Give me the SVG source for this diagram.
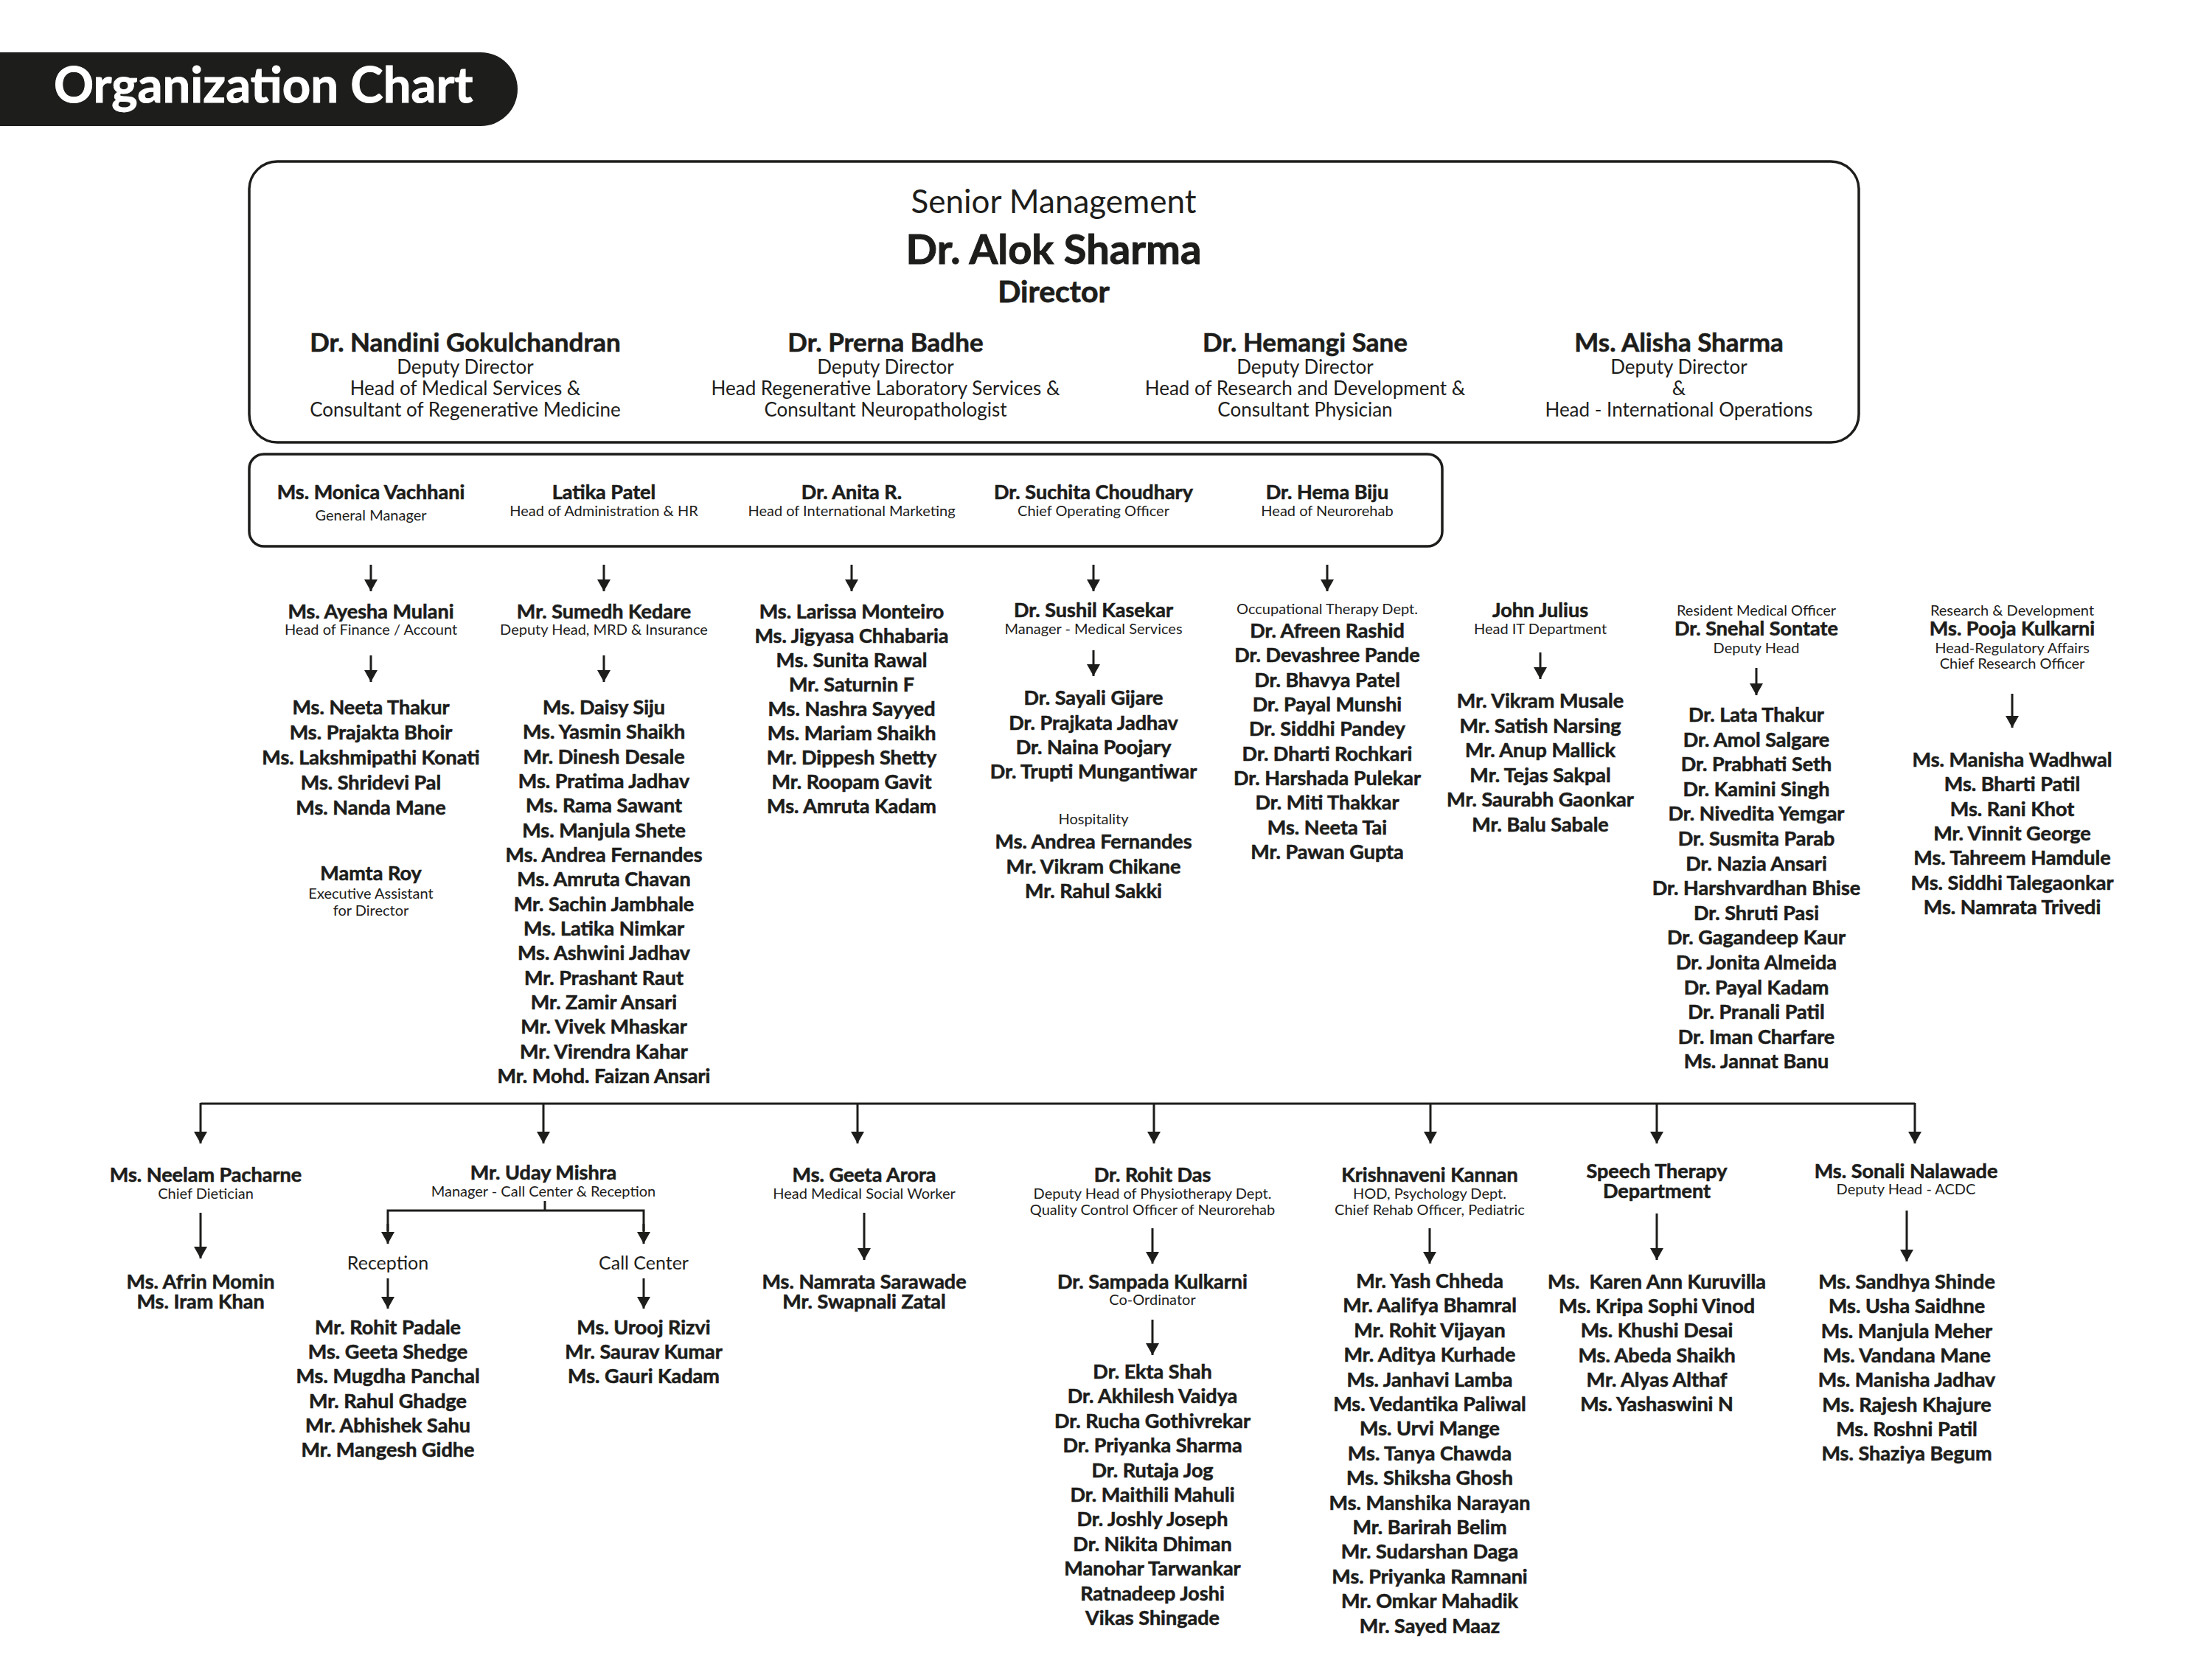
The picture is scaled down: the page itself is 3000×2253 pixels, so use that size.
<svg xmlns="http://www.w3.org/2000/svg" width="3000" height="2253" viewBox="0 0 3000 2253">
<style>
text{font-family:Lato,"Open Sans","Liberation Sans",sans-serif;fill:#1d1d1b;text-anchor:middle}
.n{font-size:27px;font-weight:700;stroke:#1d1d1b;stroke-width:0.6}
.s{font-size:20px}
.h{font-size:25px}
.t{font-size:26px}
.tn{font-size:35px;font-weight:700;stroke:#1d1d1b;stroke-width:0.6}
.box{fill:none;stroke:#1d1d1b;stroke-width:3.5}
.c{fill:none;stroke:#1d1d1b;stroke-width:3}
.a{fill:none;stroke:#1d1d1b;stroke-width:3;marker-end:url(#ah)}
</style>
<defs>
<marker id="ah" viewBox="0 0 16 18" refX="16" refY="9" markerWidth="16" markerHeight="18" markerUnits="userSpaceOnUse" orient="auto">
<path d="M0,0 L16,9 L0,18 z" fill="#1d1d1b"/>
</marker>
</defs>
<rect width="3000" height="2253" fill="#ffffff"/>

<g id="title">
<rect x="-60" y="71" width="762" height="100" rx="50" fill="#1d1d1b"/>
<text x="73" y="139" style="font-size:67px;font-weight:700;fill:#ffffff;stroke:#ffffff;stroke-width:1;text-anchor:start">Organization Chart</text>
</g>

<g id="senior-management">
<rect class="box" x="338" y="219" width="2183" height="381" rx="38"/>
<text x="1429" y="289" style="font-size:44px">Senior Management</text>
<text x="1429" y="358" style="font-size:56px;font-weight:700;stroke:#1d1d1b;stroke-width:1">Dr. Alok Sharma</text>
<text x="1429" y="410" style="font-size:41px;font-weight:700;stroke:#1d1d1b;stroke-width:0.8">Director</text>
<g id="nandini">
<text class="tn" x="631" y="477">Dr. Nandini Gokulchandran</text>
<text class="t" x="631" y="507">Deputy Director</text>
<text class="t" x="631" y="536">Head of Medical Services &amp;</text>
<text class="t" x="631" y="565">Consultant of Regenerative Medicine</text>
</g>
<g id="prerna">
<text class="tn" x="1201" y="477">Dr. Prerna Badhe</text>
<text class="t" x="1201" y="507">Deputy Director</text>
<text class="t" x="1201" y="536">Head Regenerative Laboratory Services &amp;</text>
<text class="t" x="1201" y="565">Consultant Neuropathologist</text>
</g>
<g id="hemangi">
<text class="tn" x="1770" y="477">Dr. Hemangi Sane</text>
<text class="t" x="1770" y="507">Deputy Director</text>
<text class="t" x="1770" y="536">Head of Research and Development &amp;</text>
<text class="t" x="1770" y="565">Consultant Physician</text>
</g>
<g id="alisha">
<text class="tn" x="2277" y="477">Ms. Alisha Sharma</text>
<text class="t" x="2277" y="507">Deputy Director</text>
<text class="t" x="2277" y="536">&amp;</text>
<text class="t" x="2277" y="565">Head - International Operations</text>
</g>
</g>

<g id="heads-box">
<rect class="box" x="338" y="616" width="1618" height="125" rx="20"/>
<g id="monica"><text class="n" x="503" y="677">Ms. Monica Vachhani</text><text class="s" x="503" y="706">General Manager</text></g>
<g id="latika"><text class="n" x="819" y="677">Latika Patel</text><text class="s" x="819" y="700">Head of Administration &amp; HR</text></g>
<g id="anita"><text class="n" x="1155" y="677">Dr. Anita R.</text><text class="s" x="1155" y="700">Head of International Marketing</text></g>
<g id="suchita"><text class="n" x="1483" y="677">Dr. Suchita Choudhary</text><text class="s" x="1483" y="700">Chief Operating Officer</text></g>
<g id="hema"><text class="n" x="1800" y="677">Dr. Hema Biju</text><text class="s" x="1800" y="700">Head of Neurorehab</text></g>
</g>

<g id="connectors">
<line class="a" x1="503" y1="766" x2="503" y2="802"/>
<line class="a" x1="819" y1="766" x2="819" y2="802"/>
<line class="a" x1="1155" y1="766" x2="1155" y2="802"/>
<line class="a" x1="1483" y1="766" x2="1483" y2="802"/>
<line class="a" x1="1800" y1="766" x2="1800" y2="802"/>
<line class="a" x1="503" y1="889" x2="503" y2="925"/>
<line class="a" x1="819" y1="889" x2="819" y2="925"/>
<line class="a" x1="1483" y1="882" x2="1483" y2="917"/>
<line class="a" x1="2089" y1="885" x2="2089" y2="921"/>
<line class="a" x1="2382" y1="906" x2="2382" y2="943"/>
<line class="a" x1="2729" y1="941" x2="2729" y2="987"/>
<polyline class="c" points="272,1497 2597,1497"/>
<line class="a" x1="272" y1="1496" x2="272" y2="1551"/>
<line class="a" x1="737" y1="1496" x2="737" y2="1551"/>
<line class="a" x1="1163" y1="1496" x2="1163" y2="1551"/>
<line class="a" x1="1565" y1="1496" x2="1565" y2="1551"/>
<line class="a" x1="1940" y1="1496" x2="1940" y2="1551"/>
<line class="a" x1="2247" y1="1496" x2="2247" y2="1551"/>
<line class="a" x1="2597" y1="1496" x2="2597" y2="1551"/>
<line class="a" x1="272" y1="1645" x2="272" y2="1707"/>
<line class="c" x1="739" y1="1629" x2="739" y2="1642"/>
<polyline class="c" points="526,1670 526,1642 873,1642 873,1670"/>
<line class="a" x1="526" y1="1660" x2="526" y2="1687"/>
<line class="a" x1="873" y1="1660" x2="873" y2="1687"/>
<line class="a" x1="526" y1="1734" x2="526" y2="1775"/>
<line class="a" x1="873" y1="1734" x2="873" y2="1775"/>
<line class="a" x1="1172" y1="1645" x2="1172" y2="1709"/>
<line class="a" x1="1563" y1="1666" x2="1563" y2="1714"/>
<line class="a" x1="1563" y1="1790" x2="1563" y2="1838"/>
<line class="a" x1="1939" y1="1666" x2="1939" y2="1714"/>
<line class="a" x1="2247" y1="1646" x2="2247" y2="1709"/>
<line class="a" x1="2586" y1="1642" x2="2586" y2="1711"/>
</g>

<g id="ayesha-mulani">
<text class="n" x="503" y="839">Ms. Ayesha Mulani</text>
<text class="s" x="503" y="861">Head of Finance / Account</text>
</g>
<g id="finance-team">
<text class="n" x="503" y="969">Ms. Neeta Thakur</text>
<text class="n" x="503" y="1003">Ms. Prajakta Bhoir</text>
<text class="n" x="503" y="1037">Ms. Lakshmipathi Konati</text>
<text class="n" x="503" y="1071">Ms. Shridevi Pal</text>
<text class="n" x="503" y="1105">Ms. Nanda Mane</text>
</g>
<g id="mamta-roy">
<text class="n" x="503" y="1194">Mamta Roy</text>
<text class="s" x="503" y="1219">Executive Assistant</text>
<text class="s" x="503" y="1242">for Director</text>
</g>

<g id="sumedh-kedare">
<text class="n" x="819" y="839">Mr. Sumedh Kedare</text>
<text class="s" x="819" y="861">Deputy Head, MRD &amp; Insurance</text>
</g>
<g id="admin-team">
<text class="n" x="819" y="969">Ms. Daisy Siju</text>
<text class="n" x="819" y="1002">Ms. Yasmin Shaikh</text>
<text class="n" x="819" y="1036">Mr. Dinesh Desale</text>
<text class="n" x="819" y="1069">Ms. Pratima Jadhav</text>
<text class="n" x="819" y="1102">Ms. Rama Sawant</text>
<text class="n" x="819" y="1136">Ms. Manjula Shete</text>
<text class="n" x="819" y="1169">Ms. Andrea Fernandes</text>
<text class="n" x="819" y="1202">Ms. Amruta Chavan</text>
<text class="n" x="819" y="1236">Mr. Sachin Jambhale</text>
<text class="n" x="819" y="1269">Ms. Latika Nimkar</text>
<text class="n" x="819" y="1302">Ms. Ashwini Jadhav</text>
<text class="n" x="819" y="1336">Mr. Prashant Raut</text>
<text class="n" x="819" y="1369">Mr. Zamir Ansari</text>
<text class="n" x="819" y="1402">Mr. Vivek Mhaskar</text>
<text class="n" x="819" y="1436">Mr. Virendra Kahar</text>
<text class="n" x="819" y="1469">Mr. Mohd. Faizan Ansari</text>
</g>

<g id="marketing-team">
<text class="n" x="1155" y="839">Ms. Larissa Monteiro</text>
<text class="n" x="1155" y="872">Ms. Jigyasa Chhabaria</text>
<text class="n" x="1155" y="905">Ms. Sunita Rawal</text>
<text class="n" x="1155" y="938">Mr. Saturnin F</text>
<text class="n" x="1155" y="971">Ms. Nashra Sayyed</text>
<text class="n" x="1155" y="1004">Ms. Mariam Shaikh</text>
<text class="n" x="1155" y="1037">Mr. Dippesh Shetty</text>
<text class="n" x="1155" y="1070">Mr. Roopam Gavit</text>
<text class="n" x="1155" y="1103">Ms. Amruta Kadam</text>
</g>

<g id="sushil-kasekar">
<text class="n" x="1483" y="837">Dr. Sushil Kasekar</text>
<text class="s" x="1483" y="860">Manager - Medical Services</text>
</g>
<g id="medical-team">
<text class="n" x="1483" y="956">Dr. Sayali Gijare</text>
<text class="n" x="1483" y="990">Dr. Prajkata Jadhav</text>
<text class="n" x="1483" y="1023">Dr. Naina Poojary</text>
<text class="n" x="1483" y="1056">Dr. Trupti Mungantiwar</text>
</g>
<g id="hospitality">
<text class="s" x="1483" y="1118">Hospitality</text>
<text class="n" x="1483" y="1151">Ms. Andrea Fernandes</text>
<text class="n" x="1483" y="1185">Mr. Vikram Chikane</text>
<text class="n" x="1483" y="1218">Mr. Rahul Sakki</text>
</g>

<g id="occupational-therapy">
<text class="s" x="1800" y="833">Occupational Therapy Dept.</text>
<text class="n" x="1800" y="865">Dr. Afreen Rashid</text>
<text class="n" x="1800" y="898">Dr. Devashree Pande</text>
<text class="n" x="1800" y="932">Dr. Bhavya Patel</text>
<text class="n" x="1800" y="965">Dr. Payal Munshi</text>
<text class="n" x="1800" y="998">Dr. Siddhi Pandey</text>
<text class="n" x="1800" y="1032">Dr. Dharti Rochkari</text>
<text class="n" x="1800" y="1065">Dr. Harshada Pulekar</text>
<text class="n" x="1800" y="1098">Dr. Miti Thakkar</text>
<text class="n" x="1800" y="1132">Ms. Neeta Tai</text>
<text class="n" x="1800" y="1165">Mr. Pawan Gupta</text>
</g>

<g id="john-julius">
<text class="n" x="2089" y="837">John Julius</text>
<text class="s" x="2089" y="860">Head IT Department</text>
</g>
<g id="it-team">
<text class="n" x="2089" y="960">Mr. Vikram Musale</text>
<text class="n" x="2089" y="994">Mr. Satish Narsing</text>
<text class="n" x="2089" y="1027">Mr. Anup Mallick</text>
<text class="n" x="2089" y="1061">Mr. Tejas Sakpal</text>
<text class="n" x="2089" y="1094">Mr. Saurabh Gaonkar</text>
<text class="n" x="2089" y="1128">Mr. Balu Sabale</text>
</g>

<g id="snehal-sontate">
<text class="s" x="2382" y="835">Resident Medical Officer</text>
<text class="n" x="2382" y="862">Dr. Snehal Sontate</text>
<text class="s" x="2382" y="886">Deputy Head</text>
</g>
<g id="rmo-team">
<text class="n" x="2382" y="979">Dr. Lata Thakur</text>
<text class="n" x="2382" y="1013">Dr. Amol Salgare</text>
<text class="n" x="2382" y="1046">Dr. Prabhati Seth</text>
<text class="n" x="2382" y="1080">Dr. Kamini Singh</text>
<text class="n" x="2382" y="1113">Dr. Nivedita Yemgar</text>
<text class="n" x="2382" y="1147">Dr. Susmita Parab</text>
<text class="n" x="2382" y="1181">Dr. Nazia Ansari</text>
<text class="n" x="2382" y="1214">Dr. Harshvardhan Bhise</text>
<text class="n" x="2382" y="1248">Dr. Shruti Pasi</text>
<text class="n" x="2382" y="1281">Dr. Gagandeep Kaur</text>
<text class="n" x="2382" y="1315">Dr. Jonita Almeida</text>
<text class="n" x="2382" y="1349">Dr. Payal Kadam</text>
<text class="n" x="2382" y="1382">Dr. Pranali Patil</text>
<text class="n" x="2382" y="1416">Dr. Iman Charfare</text>
<text class="n" x="2382" y="1449">Ms. Jannat Banu</text>
</g>

<g id="pooja-kulkarni">
<text class="s" x="2729" y="835">Research &amp; Development</text>
<text class="n" x="2729" y="862">Ms. Pooja Kulkarni</text>
<text class="s" x="2729" y="886">Head-Regulatory Affairs</text>
<text class="s" x="2729" y="907">Chief Research Officer</text>
</g>
<g id="research-team">
<text class="n" x="2729" y="1040">Ms. Manisha Wadhwal</text>
<text class="n" x="2729" y="1073">Ms. Bharti Patil</text>
<text class="n" x="2729" y="1107">Ms. Rani Khot</text>
<text class="n" x="2729" y="1140">Mr. Vinnit George</text>
<text class="n" x="2729" y="1173">Ms. Tahreem Hamdule</text>
<text class="n" x="2729" y="1207">Ms. Siddhi Talegaonkar</text>
<text class="n" x="2729" y="1240">Ms. Namrata Trivedi</text>
</g>

<g id="neelam-pacharne">
<text class="n" x="279" y="1603">Ms. Neelam Pacharne</text>
<text class="s" x="279" y="1626">Chief Dietician</text>
</g>
<g id="dietician-team">
<text class="n" x="272" y="1748">Ms. Afrin Momin</text>
<text class="n" x="272" y="1775">Ms. Iram Khan</text>
</g>

<g id="uday-mishra">
<text class="n" x="737" y="1600">Mr. Uday Mishra</text>
<text class="s" x="737" y="1623">Manager - Call Center &amp; Reception</text>
</g>
<g id="reception">
<text class="h" x="526" y="1722">Reception</text>
<text class="n" x="526" y="1810">Mr. Rohit Padale</text>
<text class="n" x="526" y="1843">Ms. Geeta Shedge</text>
<text class="n" x="526" y="1876">Ms. Mugdha Panchal</text>
<text class="n" x="526" y="1910">Mr. Rahul Ghadge</text>
<text class="n" x="526" y="1943">Mr. Abhishek Sahu</text>
<text class="n" x="526" y="1976">Mr. Mangesh Gidhe</text>
</g>
<g id="call-center">
<text class="h" x="873" y="1722">Call Center</text>
<text class="n" x="873" y="1810">Ms. Urooj Rizvi</text>
<text class="n" x="873" y="1843">Mr. Saurav Kumar</text>
<text class="n" x="873" y="1876">Ms. Gauri Kadam</text>
</g>

<g id="geeta-arora">
<text class="n" x="1172" y="1603">Ms. Geeta Arora</text>
<text class="s" x="1172" y="1626">Head Medical Social Worker</text>
</g>
<g id="social-work-team">
<text class="n" x="1172" y="1748">Ms. Namrata Sarawade</text>
<text class="n" x="1172" y="1775">Mr. Swapnali Zatal</text>
</g>

<g id="rohit-das">
<text class="n" x="1563" y="1603">Dr. Rohit Das</text>
<text class="s" x="1563" y="1626">Deputy Head of Physiotherapy Dept.</text>
<text class="s" x="1563" y="1648">Quality Control Officer of Neurorehab</text>
</g>
<g id="sampada-kulkarni">
<text class="n" x="1563" y="1748">Dr. Sampada Kulkarni</text>
<text class="s" x="1563" y="1770">Co-Ordinator</text>
</g>
<g id="physio-team">
<text class="n" x="1563" y="1870">Dr. Ekta Shah</text>
<text class="n" x="1563" y="1903">Dr. Akhilesh Vaidya</text>
<text class="n" x="1563" y="1937">Dr. Rucha Gothivrekar</text>
<text class="n" x="1563" y="1970">Dr. Priyanka Sharma</text>
<text class="n" x="1563" y="2004">Dr. Rutaja Jog</text>
<text class="n" x="1563" y="2037">Dr. Maithili Mahuli</text>
<text class="n" x="1563" y="2070">Dr. Joshly Joseph</text>
<text class="n" x="1563" y="2104">Dr. Nikita Dhiman</text>
<text class="n" x="1563" y="2137">Manohar Tarwankar</text>
<text class="n" x="1563" y="2171">Ratnadeep Joshi</text>
<text class="n" x="1563" y="2204">Vikas Shingade</text>
</g>

<g id="krishnaveni-kannan">
<text class="n" x="1939" y="1603">Krishnaveni Kannan</text>
<text class="s" x="1939" y="1626">HOD, Psychology Dept.</text>
<text class="s" x="1939" y="1648">Chief Rehab Officer, Pediatric</text>
</g>
<g id="psychology-team">
<text class="n" x="1939" y="1747">Mr. Yash Chheda</text>
<text class="n" x="1939" y="1780">Mr. Aalifya Bhamral</text>
<text class="n" x="1939" y="1814">Mr. Rohit Vijayan</text>
<text class="n" x="1939" y="1847">Mr. Aditya Kurhade</text>
<text class="n" x="1939" y="1881">Ms. Janhavi Lamba</text>
<text class="n" x="1939" y="1914">Ms. Vedantika Paliwal</text>
<text class="n" x="1939" y="1947">Ms. Urvi Mange</text>
<text class="n" x="1939" y="1981">Ms. Tanya Chawda</text>
<text class="n" x="1939" y="2014">Ms. Shiksha Ghosh</text>
<text class="n" x="1939" y="2048">Ms. Manshika Narayan</text>
<text class="n" x="1939" y="2081">Mr. Barirah Belim</text>
<text class="n" x="1939" y="2114">Mr. Sudarshan Daga</text>
<text class="n" x="1939" y="2148">Ms. Priyanka Ramnani</text>
<text class="n" x="1939" y="2181">Mr. Omkar Mahadik</text>
<text class="n" x="1939" y="2215">Mr. Sayed Maaz</text>
</g>

<g id="speech-therapy">
<text class="n" x="2247" y="1598">Speech Therapy</text>
<text class="n" x="2247" y="1625">Department</text>
</g>
<g id="speech-team">
<text class="n" x="2247" y="1748" xml:space="preserve">Ms.  Karen Ann Kuruvilla</text>
<text class="n" x="2247" y="1781">Ms. Kripa Sophi Vinod</text>
<text class="n" x="2247" y="1814">Ms. Khushi Desai</text>
<text class="n" x="2247" y="1848">Ms. Abeda Shaikh</text>
<text class="n" x="2247" y="1881">Mr. Alyas Althaf</text>
<text class="n" x="2247" y="1914">Ms. Yashaswini N</text>
</g>

<g id="sonali-nalawade">
<text class="n" x="2585" y="1598">Ms. Sonali Nalawade</text>
<text class="s" x="2585" y="1620">Deputy Head - ACDC</text>
</g>
<g id="acdc-team">
<text class="n" x="2586" y="1748">Ms. Sandhya Shinde</text>
<text class="n" x="2586" y="1781">Ms. Usha Saidhne</text>
<text class="n" x="2586" y="1815">Ms. Manjula Meher</text>
<text class="n" x="2586" y="1848">Ms. Vandana Mane</text>
<text class="n" x="2586" y="1881">Ms. Manisha Jadhav</text>
<text class="n" x="2586" y="1915">Ms. Rajesh Khajure</text>
<text class="n" x="2586" y="1948">Ms. Roshni Patil</text>
<text class="n" x="2586" y="1981">Ms. Shaziya Begum</text>
</g>
</svg>
